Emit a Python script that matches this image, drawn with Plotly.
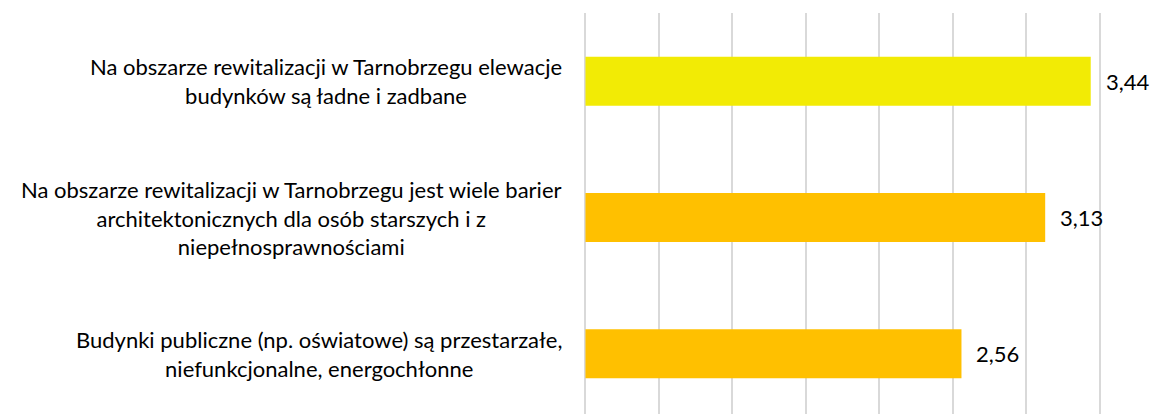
import plotly.graph_objects as go

# ── Dane ──────────────────────────────────────────────────────
kategorie = [
    "Na obszarze rewitalizacji w Tarnobrzegu elewacje<br>budynków są ładne i zadbane",
    "Na obszarze rewitalizacji w Tarnobrzegu jest wiele barier<br>architektonicznych dla osób starszych i z<br>niepełnosprawnościami",
    "Budynki publiczne (np. oświatowe) są przestarzałe,<br>niefunkcjonalne, energochłonne",
]
wartosci = [3.44, 3.13, 2.56]
kolory = ["#F2EB05", "#FFC000", "#FFC000"]

_FONT = "Lato, Calibri, sans-serif"
_TEXT = "#000000"
_GRID = "#D9D9D9"

fig = go.Figure(go.Bar(
    x=wartosci,
    y=kategorie,
    orientation="h",
    marker=dict(color=kolory, line=dict(width=0)),
    width=0.36,
    hoverinfo="skip",
))

# etykiety kategorii (wyśrodkowane wiersze, wyrównane do osi)
for kat in kategorie:
    fig.add_annotation(
        x=0, xref="x", y=kat, yref="y",
        text=kat, showarrow=False,
        xanchor="right", xshift=-21, align="center",
        font=dict(family=_FONT, size=22, color=_TEXT),
    )

# etykiety wartości
for kat, v in zip(kategorie, wartosci):
    fig.add_annotation(
        x=v, y=kat, text=f"{v:.2f}".replace(".", ","),
        showarrow=False, xanchor="left", xshift=13,
        font=dict(family=_FONT, size=22, color=_TEXT),
    )

# strona ma domyślny margines body 8px – marginesy to uwzględniają
fig.update_layout(
    width=1159,
    height=414,
    paper_bgcolor="white",
    plot_bgcolor="white",
    margin=dict(l=576, r=66, t=5, b=0),
    showlegend=False,
    font=dict(family=_FONT, color=_TEXT),
    xaxis=dict(
        range=[-0.01, 3.51],
        tick0=0, dtick=0.5,
        showgrid=True, gridcolor=_GRID, gridwidth=1.5,
        zeroline=False, showline=False,
        showticklabels=False, ticks="",
        fixedrange=True,
    ),
    yaxis=dict(
        type="category",
        categoryorder="array", categoryarray=kategorie,
        range=[2.5, -0.5],
        showgrid=False, zeroline=False, showline=False,
        showticklabels=False, ticks="",
        fixedrange=True,
    ),
)

fig.write_html("out.html", config={"displayModeBar": False})
